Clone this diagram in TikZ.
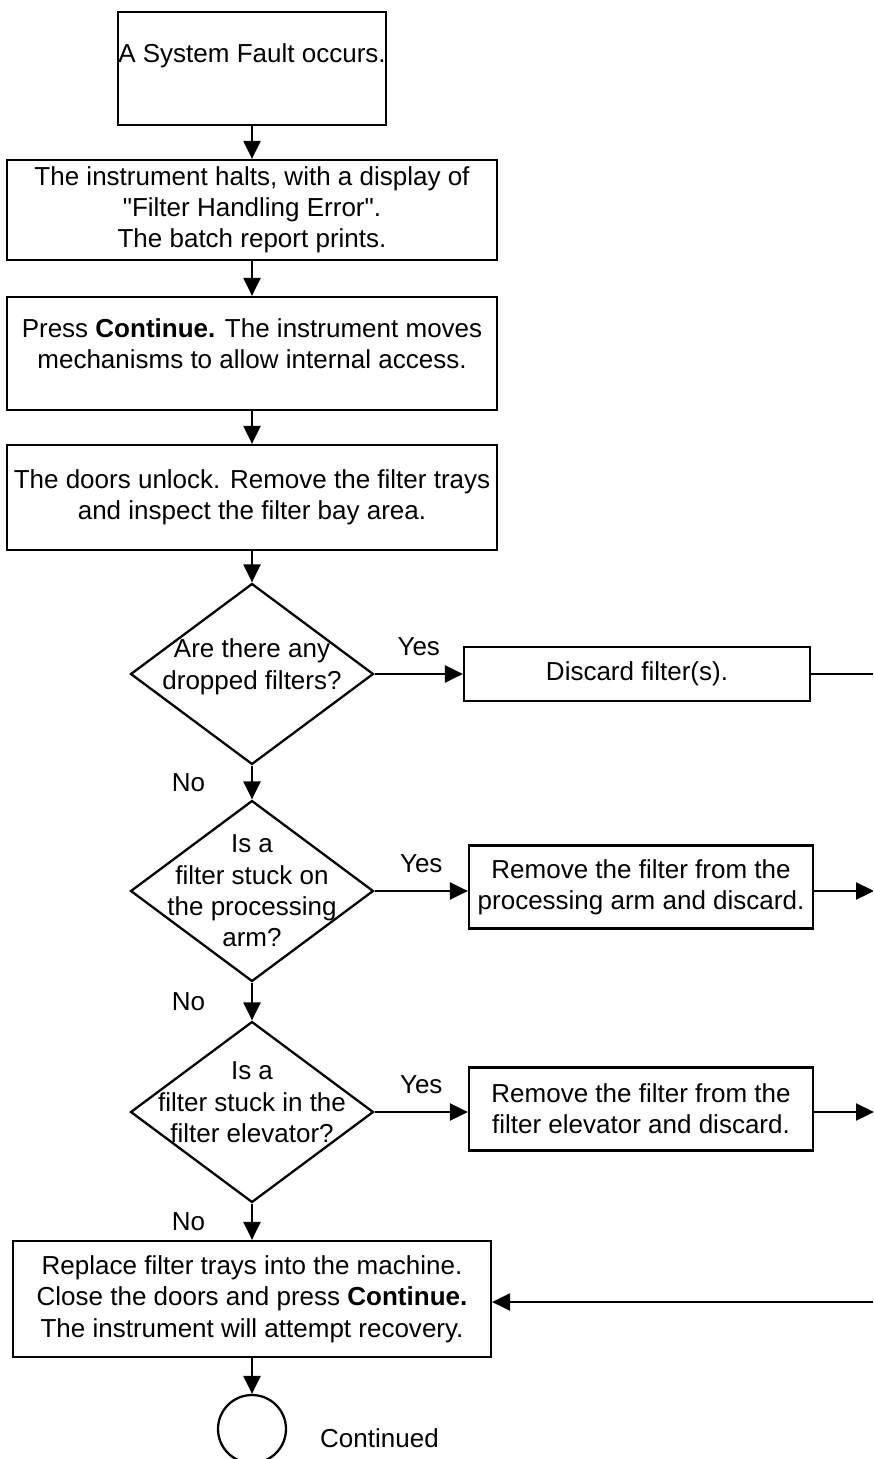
\documentclass[tikz,border=0pt]{standalone}
\usepackage{fontspec}
\setmainfont{Liberation Sans}[Ligatures=TeXOff]
\usepackage{tikz}
\usetikzlibrary{arrows.meta,positioning,shapes.geometric}

\begin{document}
\begin{tikzpicture}[x=0.02cm, y=-0.02cm,
  font=\fontsize{14.8}{17.8}\selectfont,
  box/.style={draw, line width=1.3pt, inner sep=1pt, align=center,
    minimum width=9.8cm},
  sidebox/.style={draw, line width=1.3pt, inner sep=1pt, align=center,
    minimum width=6.88cm, minimum height=1.66cm},
  decision/.style={draw, diamond, line width=1.3pt, inner sep=-40pt, align=center,
    minimum width=4.86cm, minimum height=3.62cm},
  endpt/.style={draw, circle, line width=1.3pt, minimum size=1.36cm},
  arr/.style={-{Triangle[length=0.36cm, width=0.34cm]}, line width=1.3pt},
  lbl/.style={inner sep=0pt},
]
\useasboundingbox (0,0) rectangle (873,1459);
\clip (0,0) rectangle (873,1459);

\node[box, inner sep=0pt, minimum width=5.34cm, minimum height=2.26cm] (fault) at (252,68.5) {A System Fault occurs.\\~};
\node[box, minimum height=2cm] (halt) at (252,210)
  {The instrument halts, with a display of\\"Filter Handling Error".\\The batch report prints.};
\node[box, minimum height=2.26cm] (press) at (252,353.5)
  {Press \textbf{Continue.} The instrument moves\\mechanisms to allow internal access.\\[-6.6pt]\mbox{}};
\node[box, minimum height=2.1cm] (doors) at (252,497.5)
  {The doors unlock. Remove the filter trays\\and inspect the filter bay area.};
\node[decision] (dropped) at (252,674) {Are there any\\dropped filters?\\[-6.6pt]\mbox{}};
\node[sidebox, minimum width=6.92cm, minimum height=1.08cm] (discard) at (637,674) {Discard filter(s).};
\node[decision] (onarm) at (252,891) {Is a\\filter stuck on\\the processing\\arm?};
\node[sidebox] (armbox) at (641,887) {Remove the filter from the\\processing arm and discard.};
\node[decision] (inelev) at (252,1112) {Is a\\filter stuck in the\\filter elevator?\\[-6.6pt]\mbox{}};
\node[sidebox] (elevbox) at (641,1109) {Remove the filter from the\\filter elevator and discard.};
\node[box, minimum width=9.56cm, minimum height=2.32cm] (recover) at (252,1299)
  {Replace filter trays into the machine.\\Close the doors and press \textbf{Continue.}\\The instrument will attempt recovery.};
\node[endpt] (cont) at (252,1429) {};
\node[anchor=west] (contlbl) at (314,1438) {Continued};

\coordinate (rdrop) at (880,674);
\coordinate (rarm) at (874,891);
\coordinate (relev) at (874,1112);
\coordinate (rback) at (880,1302);

\draw[arr] (fault) -- (halt);
\draw[arr] (halt) -- (press);
\draw[arr] (press) -- (doors);
\draw[arr] (doors) -- (dropped);
\draw[arr] (dropped) -- node[lbl, above=10pt]{Yes} (discard);
\draw[arr] (dropped) -- node[lbl, left=26pt]{No} (onarm);
\draw[arr] (onarm.east) -- node[lbl, above=10pt]{Yes} (onarm.east -| armbox.west);
\draw[arr] (onarm) -- node[lbl, left=26pt]{No} (inelev);
\draw[arr] (inelev.east) -- node[lbl, above=10pt]{Yes} (inelev.east -| elevbox.west);
\draw[arr] (inelev) -- node[lbl, left=26pt]{No} (recover);
\draw[arr] (recover) -- (cont);
\draw[line width=1.3pt] (discard) -- (rdrop);
\draw[arr] (armbox.east |- rarm) -- (rarm);
\draw[arr] (elevbox.east |- relev) -- (relev);
\draw[arr] (rback) -- (rback -| recover.east);
\end{tikzpicture}
\end{document}
